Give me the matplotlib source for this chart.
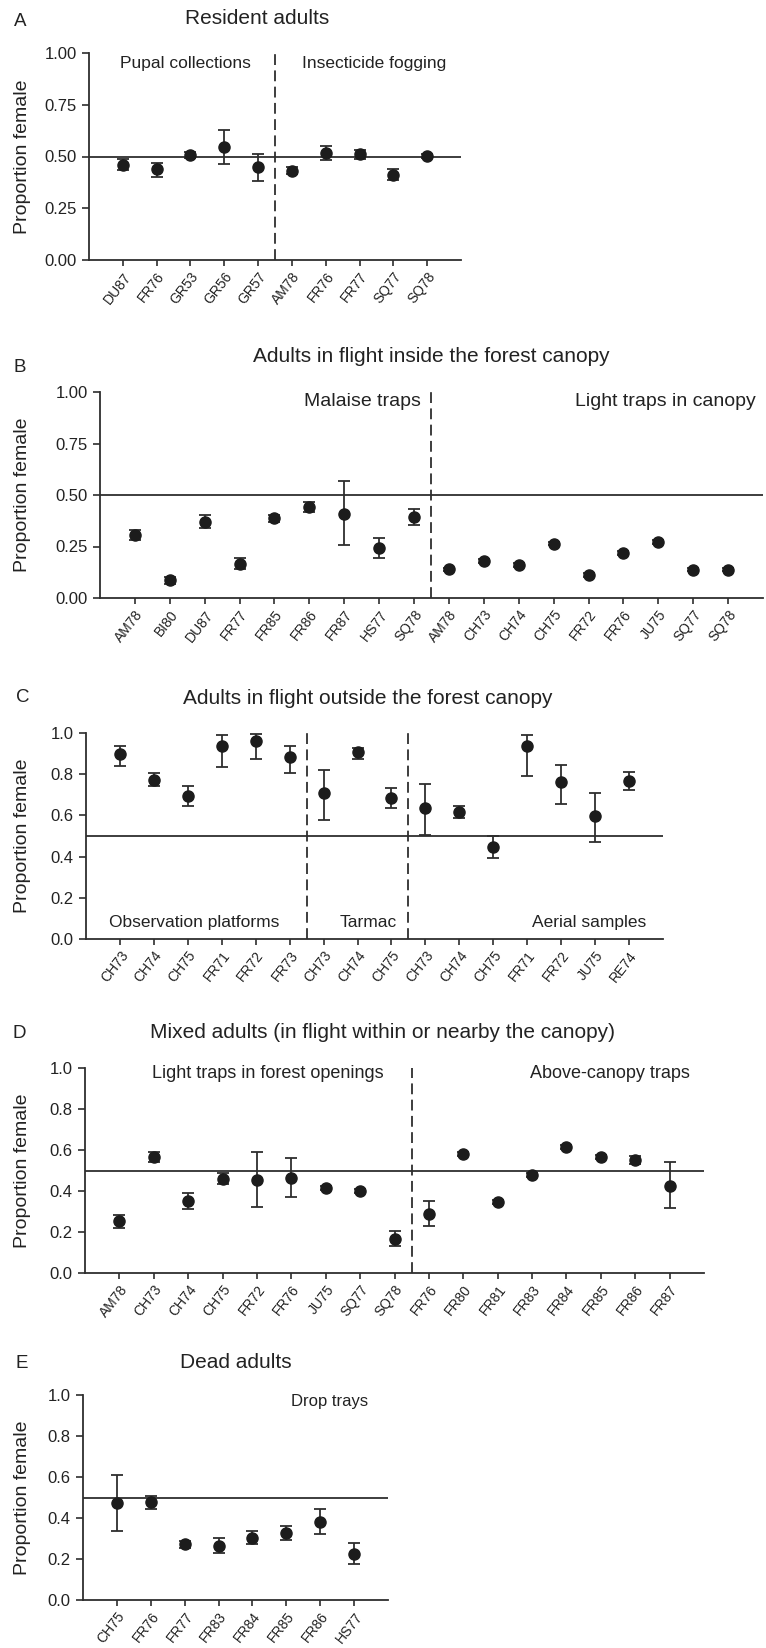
import matplotlib.pyplot as plt
import numpy as np

plt.rcParams['font.family'] = ['Liberation Sans', 'DejaVu Sans']

W, H = 766, 1648
INK = '#2e2e2e'
DOT = '#1c1c1c'

# A - resident adults
a_sites = ['DU87', 'FR76', 'GR53', 'GR56', 'GR57', 'AM78', 'FR76', 'FR77', 'SQ77', 'SQ78']
a_mean = [0.460, 0.439, 0.506, 0.547, 0.448, 0.431, 0.516, 0.510, 0.413, 0.503]
a_low = [0.435, 0.403, 0.492, 0.463, 0.381, 0.415, 0.481, 0.489, 0.385, 0.494]
a_high = [0.489, 0.468, 0.521, 0.629, 0.513, 0.447, 0.553, 0.529, 0.439, 0.513]

# B - adults in flight inside the canopy
b_sites = ['AM78', 'BI80', 'DU87', 'FR77', 'FR85', 'FR86', 'FR87', 'HS77', 'SQ78',
           'AM78', 'CH73', 'CH74', 'CH75', 'FR72', 'FR76', 'JU75', 'SQ77', 'SQ78']
b_mean = [0.304, 0.087, 0.371, 0.165, 0.387, 0.440, 0.408, 0.243, 0.393,
          0.139, 0.181, 0.160, 0.264, 0.113, 0.220, 0.272, 0.138, 0.138]
b_low = [0.280, 0.070, 0.341, 0.139, 0.371, 0.416, 0.259, 0.194, 0.353,
         0.130, 0.172, 0.151, 0.255, 0.104, 0.211, 0.263, 0.129, 0.129]
b_high = [0.330, 0.104, 0.403, 0.193, 0.401, 0.464, 0.566, 0.293, 0.434,
          0.148, 0.190, 0.169, 0.273, 0.122, 0.229, 0.281, 0.147, 0.147]

# C - adults in flight outside the canopy
c_sites = ['CH73', 'CH74', 'CH75', 'FR71', 'FR72', 'FR73', 'CH73', 'CH74', 'CH75',
           'CH73', 'CH74', 'CH75', 'FR71', 'FR72', 'JU75', 'RE74']
c_mean = [0.898, 0.773, 0.693, 0.939, 0.963, 0.883, 0.707, 0.909, 0.686,
          0.638, 0.617, 0.448, 0.939, 0.761, 0.595, 0.769]
c_low = [0.841, 0.741, 0.644, 0.833, 0.874, 0.804, 0.576, 0.874, 0.638,
         0.506, 0.586, 0.393, 0.793, 0.655, 0.469, 0.722]
c_high = [0.939, 0.806, 0.741, 0.989, 0.997, 0.939, 0.822, 0.929, 0.733,
          0.754, 0.644, 0.502, 0.992, 0.846, 0.710, 0.811]

# D - mixed adults
d_sites = ['AM78', 'CH73', 'CH74', 'CH75', 'FR72', 'FR76', 'JU75', 'SQ77', 'SQ78',
           'FR76', 'FR80', 'FR81', 'FR83', 'FR84', 'FR85', 'FR86', 'FR87']
d_mean = [0.253, 0.568, 0.349, 0.460, 0.452, 0.462, 0.414, 0.400, 0.168,
          0.287, 0.582, 0.347, 0.480, 0.615, 0.564, 0.551, 0.426]
d_low = [0.220, 0.542, 0.312, 0.434, 0.323, 0.369, 0.405, 0.391, 0.131,
         0.228, 0.573, 0.337, 0.470, 0.605, 0.554, 0.532, 0.316]
d_high = [0.285, 0.589, 0.388, 0.486, 0.589, 0.563, 0.423, 0.409, 0.206,
          0.349, 0.591, 0.357, 0.490, 0.625, 0.574, 0.571, 0.540]

# E - dead adults
e_sites = ['CH75', 'FR76', 'FR77', 'FR83', 'FR84', 'FR85', 'FR86', 'HS77']
e_mean = [0.472, 0.478, 0.272, 0.263, 0.304, 0.328, 0.380, 0.224]
e_low = [0.337, 0.444, 0.255, 0.228, 0.273, 0.294, 0.320, 0.177]
e_high = [0.610, 0.509, 0.288, 0.301, 0.337, 0.361, 0.442, 0.280]


fig = plt.figure(figsize=(W / 100, H / 100), dpi=100)


def fx(x):
    return x / W


def fy(y):
    return 1 - y / H


def panel(box, sites, mean, low, high, dividers, yticks, fmt):
    l, t, r, b = box
    ax = fig.add_axes([fx(l), fy(b), (r - l) / W, (b - t) / H])
    x = np.arange(len(sites))
    mean = np.array(mean)
    err = [mean - np.array(low), np.array(high) - mean]
    ax.axhline(0.5, color=INK, lw=1.3, zorder=1)
    for d in dividers:
        ax.axvline(d, color=INK, lw=1.3, ls=(0, (6, 3)), zorder=1)
    ax.errorbar(x, mean, yerr=err, fmt='o', color=DOT, ms=8, ecolor=INK,
                elinewidth=1.3, capsize=4.5, capthick=1.3, zorder=3, clip_on=False)
    ax.set_xlim(-1, len(sites))
    ax.set_ylim(0, 1)
    ax.set_yticks(yticks)
    ax.set_yticklabels([fmt % v for v in yticks], fontsize=12, color='#222222')
    ax.set_xticks(x)
    ax.set_xticklabels(sites, rotation=52, ha='right', rotation_mode='anchor',
                       fontsize=10, color='#222222')
    for s in ['top', 'right']:
        ax.spines[s].set_visible(False)
    for s in ['left', 'bottom']:
        ax.spines[s].set_color(INK)
        ax.spines[s].set_linewidth(1.3)
    ax.tick_params(axis='y', length=5, width=1.2, color=INK, pad=4)
    ax.tick_params(axis='x', length=4, width=1.2, color=INK, pad=3)
    fig.text(fx(22.5), fy((t + b) / 2), 'Proportion female', rotation=90,
             ha='center', va='center', fontsize=14, color='#222222')
    return ax


def heading(letter, lx, ly, title, tx, ty):
    fig.text(fx(lx), fy(ly), letter, ha='center', va='center', fontsize=13.5, color='#222222')
    fig.text(fx(tx), fy(ty), title, ha='center', va='center', fontsize=15, color='#222222')


q = [0, 0.25, 0.5, 0.75, 1.0]
p = [0, 0.2, 0.4, 0.6, 0.8, 1.0]

ax = panel((89, 53, 461, 260), a_sites, a_mean, a_low, a_high, [4.5], q, '%.2f')
heading('A', 20, 22, 'Resident adults', 257, 18)
ax.text(1.84, 0.95, 'Pupal collections', ha='center', va='center', fontsize=12.5, color='#222222')
ax.text(7.43, 0.95, 'Insecticide fogging', ha='center', va='center', fontsize=12.5, color='#222222')

ax = panel((100, 392, 763, 598), b_sites, b_mean, b_low, b_high, [8.5], q, '%.2f')
heading('B', 20, 367, 'Adults in flight inside the forest canopy', 431, 357)
ax.text(8.2, 0.953, 'Malaise traps', ha='right', va='center', fontsize=14, color='#222222')
ax.text(17.8, 0.953, 'Light traps in canopy', ha='right', va='center', fontsize=14, color='#222222')

ax = panel((86, 733, 663, 939), c_sites, c_mean, c_low, c_high, [5.5, 8.5], p, '%.1f')
heading('C', 23, 698, 'Adults in flight outside the forest canopy', 368, 698)
ax.text(2.19, 0.08, 'Observation platforms', ha='center', va='center', fontsize=12.5, color='#222222')
ax.text(7.32, 0.08, 'Tarmac', ha='center', va='center', fontsize=12.5, color='#222222')
ax.text(15.5, 0.08, 'Aerial samples', ha='right', va='center', fontsize=12.5, color='#222222')

ax = panel((85, 1068, 704, 1273), d_sites, d_mean, d_low, d_high, [8.5], p, '%.1f')
heading('D', 19, 1034, 'Mixed adults (in flight within or nearby the canopy)', 382, 1032)
ax.text(4.31, 0.972, 'Light traps in forest openings', ha='center', va='center', fontsize=13, color='#222222')
ax.text(16.6, 0.972, 'Above-canopy traps', ha='right', va='center', fontsize=13, color='#222222')

ax = panel((83, 1395, 388, 1600), e_sites, e_mean, e_low, e_high, [], p, '%.1f')
heading('E', 22, 1363, 'Dead adults', 235.5, 1363)
ax.text(6.28, 0.967, 'Drop trays', ha='center', va='center', fontsize=12, color='#222222')

fig.savefig('out.png', dpi=100)
